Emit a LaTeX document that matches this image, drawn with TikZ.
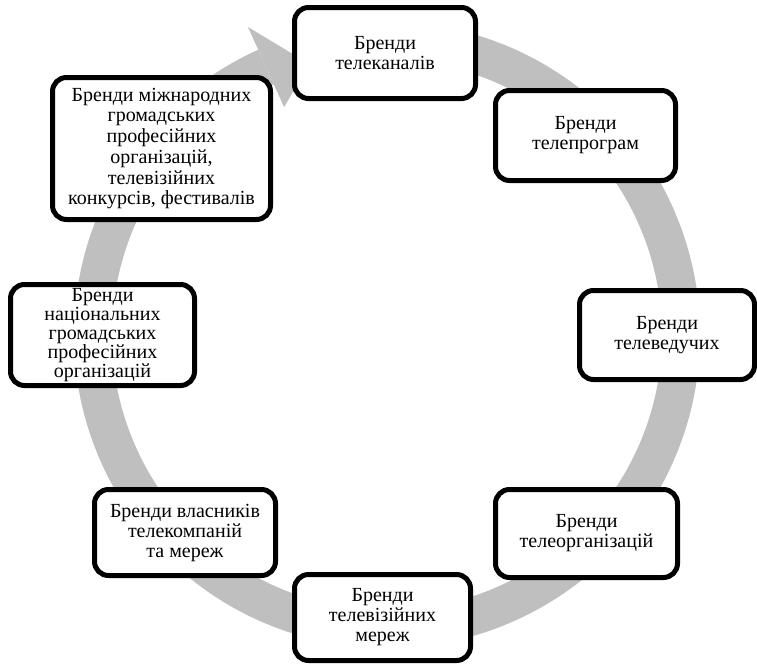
\documentclass[tikz,border=0pt]{standalone}
\usepackage{fontspec}
\setmainfont{Liberation Serif}
\usetikzlibrary{calc}
\definecolor{ringgray}{HTML}{BFBFBF}
\begin{document}
\begin{tikzpicture}[x=1pt,y=1pt,
  brand/.style={draw=black, line width=5pt, rounded corners=14pt, fill=white,
    align=center, inner sep=0pt, font=\fontsize{20}{20}\selectfont},
  ringline/.style={draw=ringgray, line width=38pt},
  ringhead/.style={fill=ringgray, draw=none}]
\useasboundingbox (0,0) rectangle (757,-667);
\coordinate (C) at (387,-335);
% circular arrow
\draw[ringline] ($(C)+(114.3:294)$) arc[start angle=114.3, end angle=445, radius=294];
\coordinate (hout) at ($(C)+(114.3:338)$);
\coordinate (hin) at ($(C)+(114.3:250)$);
\coordinate (htip) at ($(C)+(106:282)$);
\fill[ringhead] (hout) -- (htip) -- (hin) -- cycle;
% boxes
\node[brand, minimum width=181pt, minimum height=91pt] (b1) at (385,-53) {Бренди\\телеканалів};
\node[brand, minimum width=180pt, minimum height=90pt] (b2) at (585.5,-135.5) {Бренди\\телепрограм};
\node[brand, minimum width=175pt, minimum height=89pt] (b3) at (667,-335) {Бренди\\телеведучих};
\node[brand, minimum width=182pt, minimum height=88pt] (b4) at (586.5,-533.5) {Бренди\\телеорганізацій};
\node[brand, minimum width=176pt, minimum height=86pt] (b5) at (382.5,-617.5) {Бренди\\телевізійних\\мереж};
\node[brand, minimum width=181pt, minimum height=86pt] (b6) at (185,-532.5) {Бренди власників\\телекомпаній\\та мереж};
\node[brand, minimum width=184pt, minimum height=101pt, font=\fontsize{20}{19.2}\selectfont] (b7) at (102.5,-335) {Бренди\\національних\\громадських\\професійних\\організацій};
\node[brand, minimum width=218pt, minimum height=142pt, font=\fontsize{20}{20.7}\selectfont] (b8) at (161.5,-148.5) {Бренди міжнародних\\громадських\\професійних\\організацій,\\телевізійних\\конкурсів, фестивалів};
\end{tikzpicture}
\end{document}
